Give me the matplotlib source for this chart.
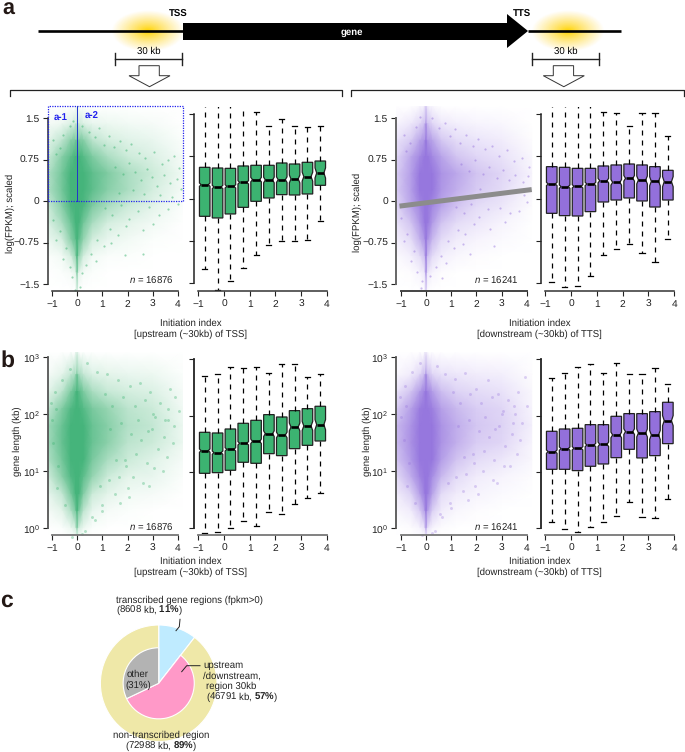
import matplotlib
matplotlib.use("Agg")
from matplotlib import pyplot as plt
from matplotlib.colors import LinearSegmentedColormap
from matplotlib.patches import Ellipse, Polygon

plt.rcParams['font.family'] = ['Liberation Sans', 'DejaVu Sans']
plt.rcParams['mathtext.fontset'] = 'custom'
plt.rcParams['mathtext.rm'] = 'Liberation Sans'
plt.rcParams['mathtext.it'] = 'Liberation Sans:italic'
plt.rcParams['mathtext.bf'] = 'Liberation Sans:bold'
plt.rcParams['text.hinting'] = 'no_hinting'

W, H = 685, 752
GREEN = '#3CB371'
PURPLE = '#9370DB'
FS = 6.9

# Box stats: q3, median, q1, lower whisker, upper whisker
box_x = [-0.75, -0.25, 0.25, 0.75, 1.25, 1.75, 2.25, 2.75, 3.25, 3.75]
notch_half = [.03, .03, .03, .03, .04, .05, .05, .07, .08, .09]

a_tss_q3 = [.555, .543, .537, .579, .591, .591, .632, .614, .644, .667]
a_tss_med = [.248, .207, .218, .289, .337, .331, .337, .349, .390, .455]
a_tss_q1 = [-.313, -.342, -.271, -.154, -.047, .012, .071, .065, .083, .236]
a_tss_low = [-1.25, -1.61, -1.46, -1.23, -1.0, -.83, -.745, -.756, -.738, -.39]
a_tss_high = [1.7, 1.7, 1.7, 1.7, 1.53, 1.28, 1.41, 1.29, 1.27, 1.29]

a_tts_q3 = [.567, .555, .537, .537, .579, .597, .614, .597, .567, .502]
a_tts_med = [.260, .213, .218, .260, .319, .289, .360, .331, .307, .301]
a_tts_q1 = [-.260, -.301, -.307, -.230, -.059, -.024, .012, -.041, -.148, -.024]
a_tts_low = [-1.477, -1.56, -1.55, -1.365, -1.0, -.892, -.809, -.957, -1.116, -.709]
a_tts_high = [1.7, 1.7, 1.7, 1.7, 1.53, 1.51, 1.29, 1.51, 1.52, 1.116]

# panel b values are log10(gene length in kb)
b_tss_q3 = [1.704, 1.692, 1.763, 1.864, 1.917, 2.018, 1.976, 2.089, 2.124, 2.166]
b_tss_med = [1.379, 1.343, 1.402, 1.509, 1.544, 1.680, 1.657, 1.799, 1.817, 1.840]
b_tss_q1 = [.976, .988, 1.030, 1.172, 1.154, 1.325, 1.290, 1.414, 1.473, 1.550]
b_tss_low = [-.089, -.065, 0, .130, .047, .296, .260, .432, .544, .621]
b_tss_high = [2.710, 2.746, 2.858, 2.846, 2.870, 2.751, 2.923, 2.911, 2.686, 2.740]

b_tts_q3 = [1.722, 1.763, 1.775, 1.840, 1.840, 1.988, 2.036, 2.036, 2.071, 2.237]
b_tts_med = [1.361, 1.414, 1.420, 1.479, 1.491, 1.657, 1.716, 1.692, 1.657, 1.911]
b_tts_q1 = [1.047, 1.047, 1.024, 1.101, 1.142, 1.254, 1.402, 1.249, 1.290, 1.503]
b_tts_low = [.118, -.018, -.065, .018, .118, .213, .467, .195, .183, .527]
b_tts_high = [2.675, 2.763, 2.870, 2.923, 2.763, 2.929, 2.734, 2.740, 2.840, 2.568]

# The scatter clouds hold ~16000 points that can't be read one by one, so each is
# an eyeballed density table plus some hand-read stray points. Not the real points.
grid_x = [-1.17, -.6, -.25, -.06, 0, .06, .25, .6, 1.2, 2, 3, 4.2]
a_grid_y = [1.72, 1.4, 1.1, .8, .5, .2, -.1, -.4, -.7, -1.0, -1.3, -1.62]
b_grid_y = [3.1, 2.7, 2.4, 2.1, 1.8, 1.5, 1.2, .9, .6, .3, 0, -.2]

a_tss_density = [
    [0, 0, 0, 0, .03, 0, 0, 0, 0, 0, 0, 0],
    [.02, .04, .08, .12, .14, .12, .08, .05, .04, .03, .02, 0],
    [.06, .15, .28, .38, .42, .38, .3, .16, .1, .07, .05, .01],
    [.12, .3, .55, .75, .85, .75, .6, .36, .2, .12, .08, .02],
    [.18, .42, .8, .95, 1, .95, .85, .55, .35, .2, .12, .03],
    [.18, .42, .8, 1, 1, 1, .85, .55, .3, .2, .1, .02],
    [.12, .3, .65, .9, 1, .9, .65, .35, .2, .12, .06, .01],
    [.08, .2, .45, .8, 1, .8, .42, .2, .1, .06, .03, 0],
    [.04, .1, .28, .55, .95, .55, .25, .1, .05, .03, .01, 0],
    [.01, .03, .1, .25, .8, .25, .1, .03, .015, .01, 0, 0],
    [0, .01, .02, .06, .4, .06, .02, .01, 0, 0, 0, 0],
    [0, 0, 0, 0, .08, 0, 0, 0, 0, 0, 0, 0],
]
a_tts_density = [
    [0, 0, .02, .04, .12, .04, .02, 0, 0, 0, 0, 0],
    [.03, .06, .12, .2, .45, .2, .12, .06, .04, .03, .02, 0],
    [.08, .16, .3, .45, .75, .45, .3, .17, .1, .07, .05, .01],
    [.12, .28, .55, .8, .95, .8, .55, .32, .18, .12, .08, .02],
    [.16, .36, .8, 1, 1, 1, .78, .45, .28, .18, .12, .03],
    [.16, .36, .72, .95, 1, .95, .7, .42, .25, .16, .1, .02],
    [.12, .28, .55, .8, 1, .8, .55, .3, .18, .1, .06, .01],
    [.08, .18, .4, .68, 1, .68, .38, .18, .1, .06, .03, 0],
    [.04, .1, .24, .45, .95, .45, .22, .1, .05, .03, .015, 0],
    [.015, .04, .1, .2, .8, .2, .1, .04, .02, .01, 0, 0],
    [0, .01, .03, .06, .5, .06, .03, .01, 0, 0, 0, 0],
    [0, 0, 0, .01, .12, .01, 0, 0, 0, 0, 0, 0],
]
b_tss_density = [
    [0, 0, 0, 0, .02, 0, 0, 0, 0, 0, 0, 0],
    [.02, .06, .14, .22, .42, .22, .14, .08, .06, .05, .04, .01],
    [.06, .16, .36, .6, .9, .6, .36, .2, .13, .1, .08, .02],
    [.14, .34, .62, .85, 1, .85, .6, .38, .25, .16, .12, .03],
    [.22, .48, .8, 1, 1, 1, .78, .48, .3, .18, .14, .04],
    [.22, .5, .85, 1, 1, 1, .82, .48, .28, .16, .12, .04],
    [.18, .42, .8, 1, 1, 1, .75, .38, .2, .12, .07, .02],
    [.1, .28, .62, .9, 1, .9, .55, .25, .12, .06, .05, .01],
    [.05, .14, .38, .7, 1, .7, .32, .12, .06, .03, .02, 0],
    [.02, .06, .18, .4, .9, .4, .15, .05, .02, .01, 0, 0],
    [0, .01, .04, .1, .3, .1, .04, .01, 0, 0, 0, 0],
    [0, 0, 0, 0, .03, 0, 0, 0, 0, 0, 0, 0],
]
b_tts_density = [
    [0, 0, 0, 0, .01, 0, 0, 0, 0, 0, 0, 0],
    [.02, .05, .12, .22, .5, .22, .12, .08, .06, .05, .04, .01],
    [.08, .18, .38, .6, .9, .6, .36, .2, .13, .1, .08, .02],
    [.16, .34, .66, .9, 1, .9, .62, .34, .22, .15, .12, .03],
    [.22, .45, .85, 1, 1, 1, .82, .45, .26, .17, .13, .04],
    [.22, .48, .88, 1, 1, 1, .85, .45, .25, .15, .12, .03],
    [.18, .4, .8, 1, 1, 1, .72, .36, .18, .1, .06, .02],
    [.1, .26, .58, .9, 1, .9, .5, .22, .1, .05, .03, .01],
    [.05, .13, .34, .66, 1, .66, .3, .1, .05, .03, .015, 0],
    [.02, .05, .15, .35, .85, .35, .14, .05, .02, .01, 0, 0],
    [0, .01, .03, .08, .35, .08, .03, .01, 0, 0, 0, 0],
    [0, 0, 0, 0, .03, 0, 0, 0, 0, 0, 0, 0],
]

a_tss_stray_x = [-.95, -.7, -.55, -.85, -.3, -.15, .2, .45, .7, .85, 1.05, 1.25, 1.45, 1.7, 1.95, 2.15, 2.45, 2.7,
                 3.05, 3.35, 3.6, 3.85, 4.05, 1.5, 1.8, 2.05, 2.3, 2.55, 2.75, 2.95, 3.15, 3.45, 3.7, 3.95, 4.1,
                 2.2, 2.65, 3.3, 3.75, 1.65, 1.1, 1.4, 1.75, 2.05, 2.4, 2.85, 3.25, 3.6, 4.0, 1.3, 1.6, 1.95, 2.6,
                 3.0, .8, 1.05, 1.35, .55, .75, -.45, -.7, -.95, -.85, -.55, -.3, -.2, .2, .35, 1.9, 2.6, .1, -.1]
a_tss_stray_y = [1.1, .95, 1.2, .85, 1.35, 1.45, 1.35, 1.25, 1.15, 1.32, 1.02, 1.18, .97, 1.08, .92, 1.03, .86, .78,
                 .88, .66, .74, .82, .6, .62, .48, .68, .52, .38, .58, .44, .28, .47, .33, .4, .22,
                 .2, .12, .1, .08, .15, -.12, -.25, -.08, -.32, -.18, -.1, -.26, -.15, -.05, -.5, -.62, -.45, -.52,
                 -.42, -.7, -.82, -.75, -.95, -1.08, -.85, -.55, -.35, -.7, -1.05, -1.2, -1.38, -1.3, -1.15, -.98,
                 -.96, -1.55, -1.6]
a_tts_stray_x = [-.9, -.65, -.4, -.8, -.25, .25, .5, .75, .95, 1.15, 1.35, 1.6, 1.85, 2.05, 2.35, 2.6, 2.9, 3.2,
                 3.5, 3.8, 4.1, 1.4, 1.7, 1.95, 2.25, 2.5, 2.8, 3.05, 3.3, 3.55, 3.85, 4.05, 2.15, 2.7, 3.4, 3.9,
                 1.2, 1.5, 1.8, 2.1, 2.45, 2.95, 3.35, 3.7, 4.0, 1.25, 1.55, 1.9, 2.55, 3.15, .85, 1.1, 1.45, .6,
                 .8, -.5, -.75, -1.0, -.9, -.6, -.35, -.15, .15, .4, 1.75, 2.7, .65, -.2]
a_tts_stray_y = [1.2, 1.05, 1.35, .9, 1.52, 1.5, 1.32, 1.42, 1.18, 1.3, 1.05, 1.2, 1.0, 1.12, .95, 1.0, .82, .92,
                 .72, .78, .62, .68, .55, .74, .5, .62, .42, .56, .38, .48, .35, .45, .22, .14, .16, .12,
                 -.1, -.22, -.05, -.28, -.15, -.12, -.22, -.18, -.02, -.52, -.6, -.42, -.5, -.38, -.72, -.85, -.78,
                 -1.0, -1.12, -.9, -.6, -.3, -.72, -1.08, -1.28, -1.45, -1.35, -1.2, -.95, -.82, -1.4, -1.58]
b_tss_stray_x = [-.9, -.6, -.3, .4, .8, 1.2, 1.6, 2.1, 2.5, 2.9, 3.3, 3.7, 3.9, 3.0, 3.5, 2.4, 2.8, 1.9, 3.2, 3.8,
                 2.2, 2.6, 3.4, 1.5, 1.0, .6, -.8, -.5, .3, 2.0, 1.7, 3.6, 1.1, 1.4, 1.8, 2.3, 2.7, 3.1, 3.6, 4.05,
                 1.3, 1.75, 2.15, 2.55, 2.95, 3.45, 3.85, 1.55, 1.95, 2.35, 2.75, 3.05, 3.55, -1.0, -.95, -.75,
                 -1.05, -.85, .9, 1.25, 1.65, 2.05, 2.85, .7, 1.0, -.2, .2]
b_tss_stray_y = [2.4, 2.6, 2.8, 2.9, 2.75, 2.7, 2.6, 2.5, 2.55, 2.4, 2.2, 2.45, 2.3, 2.0, 1.9, 1.9, 1.7, 1.2, 1.4,
                 1.5, .9, .8, 1.0, .6, .4, .2, .7, .4, -.05, .7, .45, 1.9, 2.35, 2.15, 2.3, 2.15, 2.25, 1.95, 2.1,
                 2.05, 1.75, 1.85, 1.65, 1.55, 1.75, 1.6, 1.8, 1.2, 1.1, 1.3, 1.15, 1.05, 1.25, 1.9, 1.5, 1.1, 2.2,
                 2.1, .75, .85, .9, .55, .75, .15, .3, -.15, -.1]
b_tts_stray_x = [-.85, -.55, -.25, .45, .75, 1.15, 1.55, 2.0, 2.45, 2.85, 3.25, 3.65, 3.95, 3.05, 3.45, 2.35, 2.75,
                 1.85, 3.15, 3.75, 2.25, 2.65, 3.35, 1.45, .95, .55, -.75, -.45, .35, 1.95, 1.65, 3.55, 1.05, 1.35,
                 1.75, 2.2, 2.6, 3.0, 3.5, 4.0, 1.25, 1.7, 2.1, 2.5, 2.9, 3.4, 3.8, 1.5, 1.9, 2.3, 2.7, 3.1, 3.6,
                 -1.0, -.9, -.7, -1.05, -.8, .85, 1.2, 1.6, 2.05, 2.8, .65, 1.0, -.15, .25]
b_tts_stray_y = [2.5, 2.75, 2.9, 2.85, 2.7, 2.62, 2.72, 2.45, 2.6, 2.35, 2.25, 2.4, 2.65, 2.05, 1.85, 1.95, 1.75,
                 1.3, 1.45, 1.55, 1.0, .85, 1.1, .65, .45, .25, .75, .45, -.05, .75, .5, 2.0, 2.4, 2.2, 2.35, 2.2,
                 2.3, 2.0, 2.15, 2.15, 1.8, 1.9, 1.7, 1.6, 1.8, 1.65, 1.85, 1.25, 1.15, 1.35, 1.2, 1.1, 1.3, 1.95,
                 1.55, 1.15, 2.3, 2.15, .8, .9, .95, .6, .8, .2, .35, -.12, -.08]

pie_outer = [8608, 72988]
pie_inner = [8608, 46791, 26197]
pie_outer_colors = ['#BFEBFF', '#EFE8A8']
pie_inner_colors = ['#BFEBFF', '#FF99C8', '#B3B3B3']

fig = plt.figure(figsize=(W / 100, H / 100), dpi=100)


# Axes from pixel positions: where two ticks fall on each axis and the frame edges
def px_axes(left, right, top, bottom, x0px, x4px, ytop_px, ybot_px, ytop, ybot):
    ax = fig.add_axes([left / W, 1 - bottom / H, (right - left) / W, (bottom - top) / H])
    xs = 5 / (x4px - x0px)
    ax.set_xlim(-1 + (left - x0px) * xs, -1 + (right - x0px) * xs)
    ys = (ytop - ybot) / (ybot_px - ytop_px)
    ax.set_ylim(ybot + (ybot_px - bottom) * ys, ybot + (ybot_px - top) * ys)
    ax.patch.set_alpha(0)
    ax.spines['top'].set_visible(False)
    ax.spines['right'].set_visible(False)
    ax.spines['bottom'].set_bounds(-1, 4)
    ax.spines['left'].set_bounds(ybot, ytop)
    ax.set_xticks([-1, 0, 1, 2, 3, 4])
    ax.set_xticklabels(['\u22121', '0', '1', '2', '3', '4'])
    ax.tick_params(labelsize=FS + .5, length=3.5, width=.8, pad=2.5, colors='#222222')
    return ax


def style_spines(ax, xcolor, ycolor, lw=1.1):
    ax.spines['bottom'].set_color(xcolor)
    ax.spines['left'].set_color(ycolor)
    ax.spines['bottom'].set_linewidth(lw)
    ax.spines['left'].set_linewidth(lw)


def draw_cloud(ax, grid_y, density, stray_x, stray_y, color, size, alpha, pale, mid, full):
    # low densities stay faint, the core turns solid quickly
    cmap = LinearSegmentedColormap.from_list('cloud', [(0, 'white'), (.06, pale), (.28, mid), (.7, full), (1, full)])
    ax.pcolormesh(grid_x, grid_y, density, shading='gouraud', cmap=cmap, vmin=0, vmax=1,
                  rasterized=True, zorder=1)
    ax.scatter(stray_x, stray_y, s=size, color=color, alpha=alpha, linewidths=0, zorder=2, clip_on=False)


def draw_boxes(ax, q3, med, q1, low, high, color):
    stats = []
    for i in range(len(box_x)):
        stats.append({'q1': q1[i], 'med': med[i], 'q3': q3[i], 'whislo': low[i], 'whishi': high[i],
                      'cilo': med[i] - notch_half[i], 'cihi': med[i] + notch_half[i], 'fliers': []})
    parts = ax.bxp(stats, positions=box_x, widths=.41, shownotches=True, patch_artist=True, showfliers=False,
                   manage_ticks=False,
                   boxprops={'facecolor': color, 'edgecolor': '#222222', 'linewidth': .9},
                   medianprops={'color': 'black', 'linewidth': 1.9, 'solid_capstyle': 'butt'},
                   whiskerprops={'color': 'black', 'linewidth': .9, 'linestyle': (0, (4, 4))},
                   capprops={'color': 'black', 'linewidth': .9}, capwidths=.2)
    # the reference notches are shallower than matplotlib's half-width waist
    for pos, box, line in zip(box_x, parts['boxes'], parts['medians']):
        verts = box.get_path().vertices
        for v in verts:
            if abs(v[0] - pos) < .15:
                v[0] = pos + (.14 if v[0] > pos else -.14)
        line.set_xdata([pos - .14, pos + .14])


G_CLOUD = ('#E3F4EA', '#8AD0AA', '#45B47B')
P_CLOUD = ('#EDE7FA', '#BBA7EA', '#9677DE')

# Panel a
a_ticks = [-1.5, -.75, 0, .75, 1.5]
a_labels = ['\u22121.5', '\u22120.75', '0', '0.75', '1.5']
ax = px_axes(47.7, 183, 106, 291, 52, 178, 118, 284, 1.5, -1.5)
draw_cloud(ax, a_grid_y, a_tss_density, a_tss_stray_x, a_tss_stray_y, GREEN, 2.5, .5, *G_CLOUD)
ax.set_yticks(a_ticks, a_labels)
style_spines(ax, '#333333', '#333333')
ax.plot([-1.17, 4.2, 4.2, -1.17, -1.17], [0, 0, 1.72, 1.72, 0], color='#2222EE', lw=.9, ls=(0, (1, 1)), zorder=3,
        clip_on=False)
ax.plot([0, 0], [0, 1.72], color='#2233CC', lw=.7, zorder=3)

ax = px_axes(193.7, 331, 107, 291, 198.3, 326.7, 114, 283.3, 1.5, -1.5)
draw_boxes(ax, a_tss_q3, a_tss_med, a_tss_q1, a_tss_low, a_tss_high, GREEN)
ax.set_yticks(a_ticks, [])
style_spines(ax, '#333333', '#222222')

ax = px_axes(396.3, 533, 106, 291, 401, 526.7, 118.3, 284, 1.5, -1.5)
draw_cloud(ax, a_grid_y, a_tts_density, a_tts_stray_x, a_tts_stray_y, PURPLE, 2.5, .45, *P_CLOUD)
ax.set_yticks(a_ticks, a_labels)
style_spines(ax, '#444444', '#666666', 1.4)
ax.plot([-1.06, 4.2], [-.09, .21], color='#8C8C8C', lw=3.6, solid_capstyle='butt', zorder=4, clip_on=False)

ax = px_axes(540.7, 678, 107, 291, 545.3, 674.3, 114, 283.3, 1.5, -1.5)
draw_boxes(ax, a_tts_q3, a_tts_med, a_tts_q1, a_tts_low, a_tts_high, PURPLE)
ax.set_yticks(a_ticks, [])
style_spines(ax, '#333333', '#222222')

# Panel b
b_ticks = [0, 1, 2, 3]
b_labels = ['$\\mathregular{10^{0}}$', '$\\mathregular{10^{1}}$', '$\\mathregular{10^{2}}$', '$\\mathregular{10^{3}}$']
ax = px_axes(48.3, 183, 352, 535, 52, 178, 357.3, 528.3, 3, 0)
draw_cloud(ax, b_grid_y, b_tss_density, b_tss_stray_x, b_tss_stray_y, GREEN, 4.5, .35, *G_CLOUD)
ax.set_yticks(b_ticks, b_labels)
style_spines(ax, '#777777', '#555555', 1.3)

ax = px_axes(193.7, 331, 352, 535, 198.3, 326.7, 359.3, 528.3, 3, 0)
draw_boxes(ax, b_tss_q3, b_tss_med, b_tss_q1, b_tss_low, b_tss_high, GREEN)
ax.set_yticks(b_ticks, [])
style_spines(ax, '#777777', '#222222', 1.3)

ax = px_axes(396.3, 533, 352, 535, 401, 526.7, 357.3, 528.3, 3, 0)
draw_cloud(ax, b_grid_y, b_tts_density, b_tts_stray_x, b_tts_stray_y, PURPLE, 4.5, .3, *P_CLOUD)
ax.set_yticks(b_ticks, b_labels)
style_spines(ax, '#777777', '#555555', 1.3)

ax = px_axes(540.7, 678, 352, 535, 545.3, 674.3, 359.3, 528.3, 3, 0)
draw_boxes(ax, b_tts_q3, b_tts_med, b_tts_q1, b_tts_low, b_tts_high, PURPLE)
ax.set_yticks(b_ticks, [])
style_spines(ax, '#777777', '#222222', 1.3)

# Panel c
pie_r = 58.3
ax = fig.add_axes([(158.7 - pie_r) / W, 1 - (683.3 + pie_r) / H, 2 * pie_r / W, 2 * pie_r / H])
ax.pie(pie_outer, colors=pie_outer_colors, radius=1, startangle=90, counterclock=False,
       wedgeprops={'edgecolor': 'white', 'linewidth': .8})
inner_wedges = ax.pie(pie_inner, colors=pie_inner_colors, radius=.61, startangle=90, counterclock=False,
                      wedgeprops={'edgecolor': 'white', 'linewidth': .8})[0]
inner_wedges[0].set_visible(False)  # the blue slice runs unbroken from the centre to the outer ring
ax.set_xlim(-1, 1)
ax.set_ylim(-1, 1)

# Overlay in pixel coordinates for the schematic and all free text
ov = fig.add_axes([0, 0, 1, 1], zorder=10)
ov.set_xlim(0, W)
ov.set_ylim(H, 0)
ov.axis('off')
ov.patch.set_alpha(0)

# glow behind the gene model
for cx in [148, 568]:
    for k in range(30):
        mix = k / 29
        col = (1, 1 - .16 * mix, (1 - mix) ** .8)
        ov.add_patch(Ellipse((cx, 31), 74 * (1 - mix * .95), 42 * (1 - mix * .95), color=col, lw=0, zorder=1))

ov.plot([38, 183], [31, 31], color='black', lw=1.9, zorder=2, solid_capstyle='butt')
ov.plot([528, 621], [31, 31], color='black', lw=1.9, zorder=2, solid_capstyle='butt')
ov.add_patch(Polygon([(183, 23), (507, 23), (507, 14), (528, 31), (507, 48), (507, 40), (183, 40)],
                     color='black', lw=0, zorder=3))
ov.text(352, 32, 'gene', color='white', fontsize=FS, fontweight='bold', ha='center', va='center', zorder=4)
ov.text(178, 14, 'TSS', fontsize=FS, fontweight='bold', ha='center', va='center')
ov.text(522, 14, 'TTS', fontsize=FS, fontweight='bold', ha='center', va='center')

for x0, x1, head_l, stem_l in [(115, 182.5, 129, 139), (531.7, 599, 543.3, 553.3)]:
    ov.plot([x0, x1], [59, 59], color='#222222', lw=1)
    ov.plot([x0, x0], [52.5, 65], color='#222222', lw=1)
    ov.plot([x1, x1], [52.5, 65], color='#222222', lw=1)
    ov.text((x0 + x1) / 2, 51.5, '30 kb', fontsize=FS, ha='center', va='center')
    ov.add_patch(Polygon([(stem_l, 65.7), (stem_l + 20.3, 65.7), (stem_l + 20.3, 75.7), (head_l + 41, 75.7),
                          (head_l + 20.5, 86.7), (head_l, 75.7), (stem_l, 75.7)],
                         facecolor='white', edgecolor='#333333', lw=.7))

for x0, x1 in [(9.7, 342.3), (351.3, 684.3)]:
    ov.plot([x0, x0, x1, x1], [96, 90.3, 90.3, 96], color='#222222', lw=.9)

ov.text(2, 15, 'a', fontsize=15.5, fontweight='bold', color='#231815')
ov.text(0, 366.7, 'b', fontsize=16.5, fontweight='bold', color='#231815')
ov.text(0, 606.7, 'c', fontsize=16.5, fontweight='bold', color='#231815')

ov.text(54, 117.5, 'a-1', color='#2222EE', fontsize=FS, fontweight='bold', va='center')
ov.text(85, 116.5, 'a-2', color='#2222EE', fontsize=FS, fontweight='bold', va='center')

for cx, lab in [(191, 'upstream (~30kb) of TSS'), (539.3, 'downstream (~30kb) of TTS')]:
    for y in [323, 561.5]:
        ov.text(cx, y, 'Initiation index', fontsize=FS, ha='center', va='center', color='#222222')
        ov.text(cx, y + 11, '[' + lab + ']', fontsize=FS, ha='center', va='center', color='#222222')

for x, y, s in [(10.5, 213, 'log(FPKM); scaled'), (357, 212, 'log(FPKM); scaled'),
                (17, 441, 'gene length (kb)'), (367, 441, 'gene length (kb)')]:
    ov.text(x, y, s, fontsize=FS, rotation=90, ha='center', va='center', color='#222222')

for x, y, s in [(174, 280, '16876'), (519, 280, '16241'), (174, 527, '16876'), (519, 527, '16241')]:
    ov.text(x, y, '$\\mathit{n}$ = ' + s, fontsize=FS, ha='right', va='center', color='#222222')

ov.text(116, 600, 'transcribed gene regions (fpkm>0)', fontsize=FS, va='center', color='#222222')
ov.text(116, 610.5, '(8608 kb, $\\mathbf{11\\%}$)', fontsize=FS, va='center', color='#222222')
ov.plot([180, 179.3, 176], [619.3, 626.7, 630.7], color='#222222', lw=.7)
ov.plot([181.7, 186.7, 200], [671.7, 665.7, 665.7], color='#222222', lw=.7)
ov.text(203, 665, 'upstream', fontsize=FS, va='center', color='#222222')
ov.text(203, 676, '/downstream,', fontsize=FS, va='center', color='#222222')
ov.text(206, 686.7, 'region 30kb', fontsize=FS, va='center', color='#222222')
ov.text(206, 697.3, '(46791 kb, $\\mathbf{57\\%}$)', fontsize=FS, va='center', color='#222222')
ov.text(138, 674.7, 'other', fontsize=FS, ha='center', va='center', color='#222222')
ov.text(138, 685, '(31%)', fontsize=FS, ha='center', va='center', color='#222222')
ov.text(161, 735, 'non-transcribed region', fontsize=FS, ha='center', va='center', color='#222222')
ov.text(161, 746.3, '(72988 kb, $\\mathbf{89\\%}$)', fontsize=FS, ha='center', va='center', color='#222222')

fig.savefig('out.png', dpi=100)
